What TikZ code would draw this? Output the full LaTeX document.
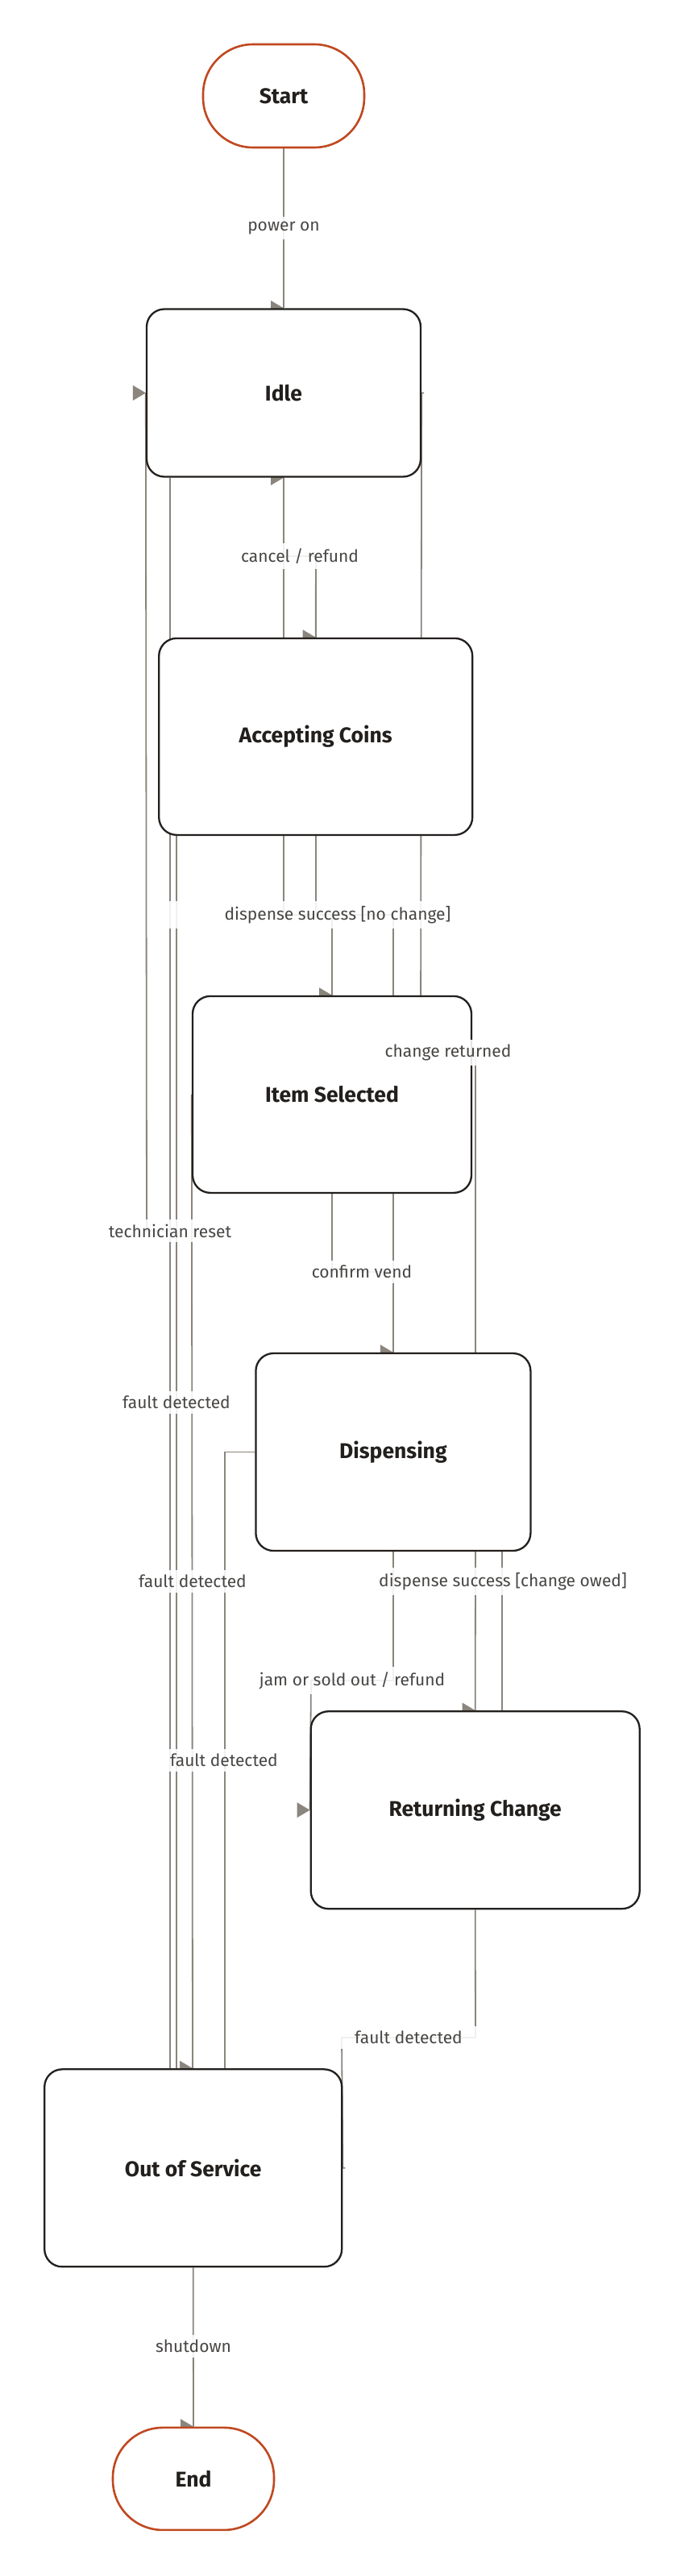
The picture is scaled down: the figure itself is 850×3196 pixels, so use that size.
\documentclass[tikz,border=0pt]{standalone}
\usepackage{fontspec}
\setmainfont{Fira Sans}
\usetikzlibrary{backgrounds}
\definecolor{edgegray}{RGB}{138,133,125}
\definecolor{termrust}{RGB}{192,72,32}
\definecolor{boxline}{RGB}{34,31,29}
\definecolor{labelgray}{RGB}{72,70,68}
\newcommand{\tipmark}[1]{\fill [edgegray] #1 -- ++(-16,-9.5) -- ++(0,19) -- cycle;}

\begin{document}
\begin{tikzpicture}[x=1pt,y=-1pt,
  state/.style={draw=boxline,line width=2.3pt,fill=white,rounded corners=22pt,inner sep=0pt,text=boxline,font=\fontsize{26.5}{31}\selectfont\bfseries},
  term/.style={state,draw=termrust,line width=2.6pt,rounded corners=62pt,minimum width=200pt},
  edge/.style={draw=edgegray,line width=1.8pt},
  lbl/.style={fill=white,fill opacity=0.88,text opacity=1,text=labelgray,inner xsep=20pt,inner ysep=6pt,font=\fontsize{21}{25}\selectfont}]
\useasboundingbox (0,0) rectangle (850,3196);
\coordinate (l211) at (211,0);
\coordinate (l219) at (219,0);
\coordinate (l239) at (239,0);
\coordinate (l279) at (279,0);
\coordinate (l352) at (352,0);
\coordinate (l590) at (590,0);
\coordinate (l623) at (623,0);
\node [term,minimum height=128pt] (Start) at (352,119) {Start};
\node [state,minimum width=340pt,minimum height=208pt] (Idle) at (352,487.5) {Idle};
\node [state,minimum width=389pt,minimum height=244pt] (AC) at (391.7,913.9) {Accepting Coins};
\node [state,minimum width=346pt,minimum height=244pt] (IS) at (412,1357.9) {Item Selected};
\node [state,minimum width=341pt,minimum height=245pt] (Disp) at (487.9,1801.5) {Dispensing};
\node [state,minimum width=408pt,minimum height=245pt] (RC) at (589.7,2245.7) {Returning Change};
\node [state,minimum width=369pt,minimum height=245pt] (OOS) at (239.7,2689.8) {Out of Service};
\node [term,minimum height=127pt] (End) at (240,3075.4) {End};
\begin{pgfonlayer}{background}
\fill [white] (0,0) rectangle (850,3196);
\draw [edge] (Start.south) -- (Idle.north);
\draw [edge] (Idle.south) -- (352,690) -- (392,690) -- (AC.north);
\draw [edge] (AC.north -| l352) -- (Idle.south);
\draw [edge] (AC.south -| l352) -- (352,1135) -- (412,1135) -- (IS.north);
\draw [edge] (Disp.north) -- (488,1135) -- (392,1135) -- (392,690) -- (352,690) -- (Idle.south);
\draw [edge] (IS.south) -- (412,1578) -- (488,1578) -- (Disp.north);
\draw [edge] (RC.north -| l623) -- (623,1802) -- (590,1802) -- (590,1306) -- (522,1306) -- (Idle.east) -- ++(3,0);
\draw [edge] (Disp.south -| l590) -- (RC.north);
\draw [edge] (Disp.south) -- (488,2085) -- (386,2085) -- (RC.west);
\draw [edge] (Idle.south -| l211) -- (OOS.north -| l211);
\draw [edge] (AC.south -| l219) -- (OOS.north -| l219);
\draw [edge] (IS.west) -- (OOS.north -| l239);
\draw [edge] (Disp.west) -- (279,1801.5) -- (OOS.north -| l279);
\draw [edge] (RC.south) -- (590,2528) -- (424,2528) -- (OOS.east) -- ++(3,0);
\draw [edge] (OOS.north -| l211) -- (211,1527) -- (182,1527) -- (Idle.west);
\draw [edge] (OOS.south) -- (End.north);
\tipmark{(Idle.north)}
\tipmark{(AC.north)}
\tipmark{(Idle.south)}
\tipmark{(IS.north)}
\tipmark{(Disp.north)}
\tipmark{(RC.north)}
\tipmark{(RC.west)}
\tipmark{(OOS.north -| l239)}
\tipmark{(Idle.west)}
\tipmark{(End.north)}
\end{pgfonlayer}
\node [lbl] (tPower) at (352,283) {power on};
\node [lbl] (tCancel) at (372,690) {cancel / refund};
\node [lbl,inner xsep=70pt] (tNoChange) at (419,1135) {dispense success [no change]};
\node [lbl] (tReturned) at (556,1306) {change returned};
\node [lbl] (tReset) at (211,1527) {technician reset};
\node [lbl] (tVend) at (449,1578) {confirm vend};
\node [lbl] (tFaultB) at (219,1740) {fault detected};
\node [lbl] (tFaultC) at (239,1962) {fault detected};
\node [lbl,inner xsep=45pt] (tOwed) at (624,1962) {dispense success [change owed]};
\node [lbl,inner xsep=30pt] (tJam) at (437,2085) {jam or sold out / refund};
\node [lbl] (tFaultD) at (278,2184) {fault detected};
\node [lbl] (tFaultE) at (507,2528) {fault detected};
\node [lbl] (tShutdown) at (240,2910.6) {shutdown};
\end{tikzpicture}
\end{document}
